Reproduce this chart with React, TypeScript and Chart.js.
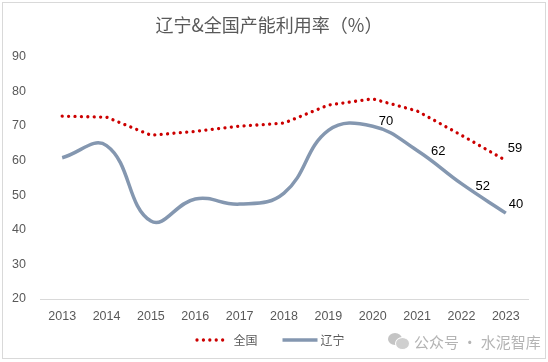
import React, { useEffect, useRef } from "react";
import { Chart, registerables } from "chart.js";

Chart.register(...registerables);

const years = ["2013", "2014", "2015", "2016", "2017", "2018", "2019", "2020", "2021", "2022", "2023"];
const national = [72.8, 72.5, 67.3, 68.4, 69.9, 70.8, 76.0, 77.8, 74.3, 67.3, 60.0];
const liaoning = [60.8, 64.3, 42.5, 48.9, 47.4, 50.6, 68.7, 69.9, 62.9, 53.3, 44.8];
const nationalLabels = ["", "", "", "", "", "", "", "", "", "", "59"];
const liaoningLabels = ["", "", "", "", "", "", "", "70", "62", "52", "40"];
const seriesNames = ["全国", "辽宁"];
const titleText = "辽宁&全国产能利用率（%）";

// label placement (style): [dx from point to label left edge, dy of label center]
const labelOffsets: Record<string, [number, number]> = {
  "0-10": [2, -12],
  "1-7": [6, -5],
  "1-8": [14, 1],
  "1-9": [14, 3],
  "1-10": [3, -9],
};

const labelPlugin = {
  id: "valueLabels",
  afterDatasetsDraw(chart: any) {
    const ctx = chart.ctx;
    const all = [nationalLabels, liaoningLabels];
    ctx.save();
    ctx.font = "13px 'Liberation Sans', 'Noto Sans CJK SC', sans-serif";
    ctx.fillStyle = "#000000";
    ctx.textAlign = "left";
    ctx.textBaseline = "middle";
    all.forEach((labels, di) => {
      const meta = chart.getDatasetMeta(di);
      labels.forEach((t, i) => {
        if (!t) return;
        const el = meta.data[i];
        const off = labelOffsets[`${di}-${i}`] || [6, -8];
        ctx.fillText(t, el.x + off[0], el.y + off[1]);
      });
    });
    ctx.restore();
  },
};

// custom legend: marker widths and gaps (style)
const legendMarkerWidths = [31, 35];
const legendTextGaps = [7, 3];
const legendItemGap = 25;
const legendCenterX = 270;
const legendY = 340;

const legendPlugin = {
  id: "customLegend",
  afterDraw(chart: any) {
    const ctx = chart.ctx;
    ctx.save();
    ctx.font = "12px 'Noto Sans CJK SC', sans-serif";
    const ds = chart.data.datasets;
    const widths = ds.map((d: any, i: number) => legendMarkerWidths[i] + legendTextGaps[i] + ctx.measureText(d.label).width);
    const total = widths.reduce((a: number, b: number) => a + b, 0) + legendItemGap * (ds.length - 1);
    let x = legendCenterX - total / 2;
    ds.forEach((d: any, i: number) => {
      ctx.beginPath();
      ctx.strokeStyle = d.borderColor;
      ctx.lineWidth = d.borderWidth;
      ctx.lineCap = d.borderCapStyle || "butt";
      ctx.setLineDash(d.borderDash || []);
      const off = d.borderDash ? 1.5 : 0;
      ctx.moveTo(x + off, legendY);
      ctx.lineTo(x + legendMarkerWidths[i], legendY);
      ctx.stroke();
      ctx.setLineDash([]);
      ctx.fillStyle = "#595959";
      ctx.textAlign = "left";
      ctx.textBaseline = "middle";
      ctx.fillText(d.label, x + legendMarkerWidths[i] + legendTextGaps[i], legendY);
      x += widths[i] + legendItemGap;
    });
    ctx.restore();
  },
};

export default function App() {
  const ref = useRef<HTMLCanvasElement>(null);
  useEffect(() => {
    const chart = new Chart(ref.current as HTMLCanvasElement, {
      type: "line",
      data: {
        labels: years,
        datasets: [
          {
            label: seriesNames[0],
            data: national,
            borderColor: "#CC0000",
            backgroundColor: "#CC0000",
            borderWidth: 3.3,
            borderDash: [0.01, 6.4],
            borderCapStyle: "round",
            tension: 0,
            pointRadius: 0,
          },
          {
            label: seriesNames[1],
            data: liaoning,
            borderColor: "#8497B0",
            backgroundColor: "#8497B0",
            borderWidth: 3.5,
            tension: 0.42,
            pointRadius: 0,
          },
        ],
      },
      options: {
        responsive: false,
        animation: false,
        devicePixelRatio: 1,
        layout: { padding: { top: 10, left: 10, right: 20, bottom: 28 } },
        plugins: {
          title: {
            display: true,
            text: titleText,
            color: "#595959",
            font: { family: "'Noto Sans CJK SC', sans-serif", size: 18, weight: "normal" },
            padding: { top: 4, bottom: 21 },
          },
          legend: { display: false },
          tooltip: { enabled: false },
        },
        scales: {
          x: {
            offset: true,
            grid: { display: false, drawTicks: false },
            border: { display: true, color: "#d9d9d9", width: 1 },
            ticks: {
              color: "#595959",
              font: { family: "'Liberation Sans', sans-serif", size: 12.5 },
              padding: 10,
              maxRotation: 0,
            },
          },
          y: {
            min: 20,
            max: 90,
            grid: { display: false, drawTicks: false },
            border: { display: false },
            afterFit: (scale: any) => {
              scale.width = 30;
            },
            ticks: {
              stepSize: 10,
              color: "#595959",
              font: { family: "'Liberation Sans', sans-serif", size: 12.5 },
              padding: 14,
            },
          },
        },
      },
      plugins: [labelPlugin, legendPlugin],
    } as any);
    return () => chart.destroy();
  }, []);

  return (
    <div style={{ position: "absolute", left: 0, top: 0, width: 548, height: 362, background: "#fff" }}>
      <canvas ref={ref} width={548} height={362} style={{ position: "absolute", left: 0, top: 0 }} />
      <div
        style={{
          position: "absolute",
          left: 2,
          top: 2,
          width: 542,
          height: 355,
          border: "1px solid #d9d9d9",
          pointerEvents: "none",
        }}
      />
      <div
        style={{
          position: "absolute",
          left: 388,
          top: 330,
          height: 22,
          display: "flex",
          alignItems: "center",
          color: "#b4b4b4",
          fontFamily: "'Noto Sans CJK SC', sans-serif",
          fontSize: 15,
          whiteSpace: "nowrap",
        }}
      >
        <span style={{ position: "relative", width: 22, height: 18, display: "inline-block", marginRight: 4 }}>
          <span style={{ position: "absolute", left: 0, top: 1, width: 14, height: 12, borderRadius: "50%", background: "#c4c4c4" }} />
          <span style={{ position: "absolute", left: 7, top: 5, width: 13, height: 11, borderRadius: "50%", background: "#cfcfcf", border: "1px solid #fff" }} />
        </span>
        公众号 · 水泥智库
      </div>
    </div>
  );
}
